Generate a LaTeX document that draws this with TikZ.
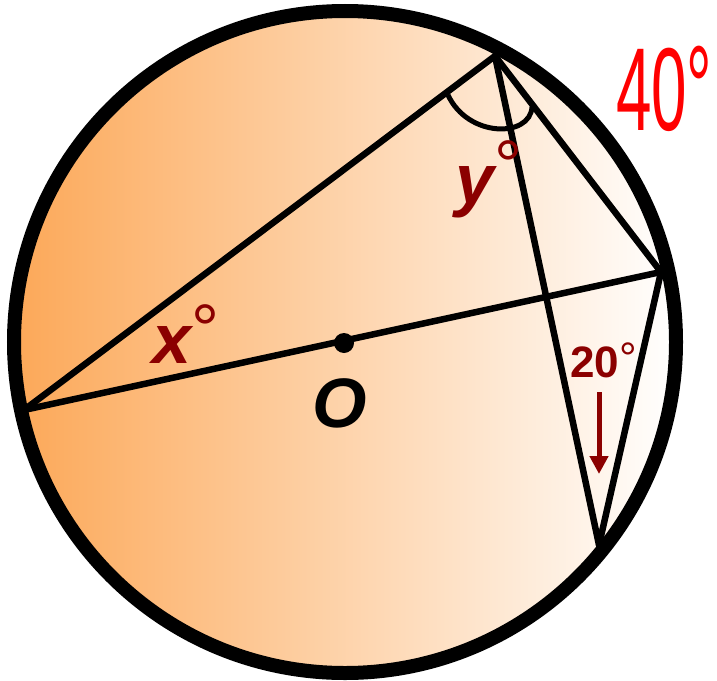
\documentclass[tikz,border=0pt]{standalone}
\usepackage{fontspec}
\setmainfont{Liberation Sans}
\usetikzlibrary{arrows.meta}
\definecolor{fillorange}{RGB}{252,168,88}
\definecolor{angred}{RGB}{139,0,0}
\definecolor{notered}{RGB}{255,0,0}

\newcommand{\degsign}[1]{\raisebox{#1}{\mdseries\upshape °}}

\begin{document}
\begin{tikzpicture}[x=1pt, y=-1pt,
  chord/.style={line width=6.5pt, line cap=round},
  anglelbl/.style={text=angred, inner sep=0pt, anchor=base west,
    font=\fontsize{70}{70}\selectfont\bfseries\itshape},
  arrow/.style={-{Triangle[length=18pt, width=18pt]}, line width=5pt, angred}
]
  \useasboundingbox (0,0) rectangle (717,680);

  % points on the circle
  \coordinate (O) at (345,342);
  \coordinate (A) at (495,56);
  \coordinate (B) at (661,272);
  \coordinate (C) at (599,545);
  \coordinate (D) at (24,410);

  \fill[left color=fillorange, right color=white] (O) circle (331);

  \draw[chord] (D) -- (A);
  \draw[chord] (D) -- (B);
  \draw[chord] (A) -- (B);
  \draw[chord] (A) -- (C);
  \draw[chord] (B) -- (C);

  % angle mark at A
  \draw[line width=5pt] (448,95) .. controls (468,138) and (530,138) .. (532,107);

  \draw[line width=14pt] (O) circle (331);
  \fill (344,343) circle (10);

  % labels
  \node[anglelbl] (xlbl) at (152,363) {x\degsign{10pt}};
  \node[anglelbl] (ylbl) at (455,203) {y\degsign{14pt}};
  \node[anglelbl, text=black] (olbl) at (312,427) {O};
  \node[inner sep=0pt, anchor=base west, text=notered, xscale=0.54,
    font=\fontsize{118}{118}\selectfont] (forty) at (616,130) {40\degsign{2pt}};
  \node[inner sep=0pt, anchor=base west, text=angred,
    font=\fontsize{44}{44}\selectfont\bfseries] (twenty) at (570,377) {20\degsign{4pt}};
  \coordinate (arrtop) at (599,392);
  \coordinate (arrtip) at (599,474);
  \draw[arrow] (arrtop) -- (arrtip);
\end{tikzpicture}
\end{document}
